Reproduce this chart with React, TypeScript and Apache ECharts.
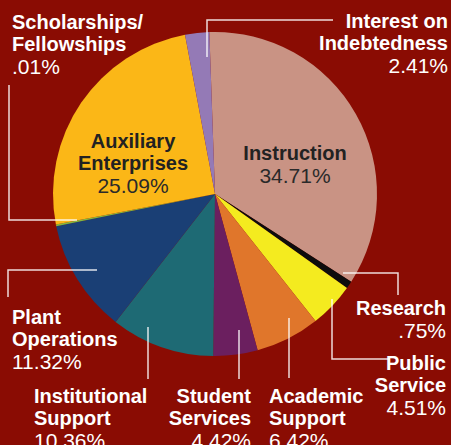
import React, { useEffect, useRef } from "react";
import * as echarts from "echarts";

// ---- data ----
const categories = [
  "Instruction",
  "Research",
  "Public Service",
  "Academic Support",
  "Student Services",
  "Institutional Support",
  "Plant Operations",
  "Scholarships/Fellowships",
  "Auxiliary Enterprises",
  "Interest on Indebtedness",
];
const labelNames = [
  "Instruction",
  "Research",
  "Public\nService",
  "Academic\nSupport",
  "Student\nServices",
  "Institutional\nSupport",
  "Plant\nOperations",
  "Scholarships/\nFellowships",
  "Auxiliary\nEnterprises",
  "Interest on\nIndebtedness",
];
const shares = [34.71, 0.75, 4.51, 6.42, 4.42, 10.36, 11.32, 0.01, 25.09, 2.41];
const insideLabel = [true, false, false, false, false, false, false, false, true, false];

// ---- styling / layout ----
const sliceColors = [
  "#C99384",
  "#0d0d0d",
  "#F4EB1F",
  "#E0762B",
  "#6B1F5F",
  "#1E6A74",
  "#1A3F75",
  "#7DBA45",
  "#FBB717",
  "#947AB6",
];
const labelPlacement: { x: number; y: number; align: string }[] = [
  { x: 295, y: 142, align: "center" },
  { x: 446, y: 297, align: "right" },
  { x: 446, y: 352, align: "right" },
  { x: 269, y: 385, align: "left" },
  { x: 251, y: 385, align: "right" },
  { x: 34, y: 385, align: "left" },
  { x: 12, y: 306, align: "left" },
  { x: 12, y: 11, align: "left" },
  { x: 133, y: 130, align: "center" },
  { x: 448, y: 10, align: "right" },
];
const leaderLines: number[][][] = [
  [[207, 57], [207, 20], [333, 20]],
  [[9, 85], [9, 220], [77, 220]],
  [[343, 273], [398, 273], [398, 295]],
  [[332, 299], [332, 359], [388, 359]],
  [[289, 318], [289, 378]],
  [[239, 330], [239, 379]],
  [[148, 327], [148, 379]],
  [[97, 270], [8, 270], [8, 297]],
];

const FONT = "'Liberation Sans', Arial, Helvetica, sans-serif";

function pctText(v: number): string {
  const s = v.toFixed(2);
  return (s.startsWith("0") ? s.slice(1) : s) + "%";
}

export default function App() {
  const ref = useRef<HTMLDivElement>(null);
  useEffect(() => {
    if (!ref.current) return;
    const chart = echarts.init(ref.current, undefined, { renderer: "svg" });
    const option: any = {
      animation: false,
      backgroundColor: "#8A0C03",
      series: [
        {
          type: "pie",
          center: [215, 194],
          radius: [0, 162],
          startAngle: 92,
          clockwise: true,
          minAngle: 0.6,
          avoidLabelOverlap: false,
          labelLine: { show: false },
          itemStyle: { borderWidth: 0 },
          emphasis: { disabled: true },
          label: {
            show: true,
            position: "outside",
            fontFamily: FONT,
            formatter: (p: any) => {
              const i = p.dataIndex;
              const inside = insideLabel[i];
              const n = inside ? "nI" : "nO";
              const pc = inside ? "pI" : "pO";
              const lines = labelNames[i].split("\n").map((l) => `{${n}|${l}}`);
              lines.push(`{${pc}|${pctText(shares[i])}}`);
              return lines.join("\n");
            },
            rich: {
              nO: { fontFamily: FONT, fontWeight: "bold", fontSize: 20, lineHeight: 22, color: "#ffffff" },
              pO: { fontFamily: FONT, fontSize: 21, lineHeight: 22, color: "#ffffff" },
              nI: { fontFamily: FONT, fontWeight: "bold", fontSize: 20, lineHeight: 22, color: "#222222" },
              pI: { fontFamily: FONT, fontSize: 21, lineHeight: 22, color: "#2a2a2a" },
            },
          },
          labelLayout: (params: any) => {
            const pl = labelPlacement[params.dataIndex];
            return { x: pl.x, y: pl.y, align: pl.align, verticalAlign: "top", hideOverlap: false };
          },
          data: categories.map((c, i) => ({
            name: c,
            value: shares[i],
            itemStyle: { color: sliceColors[i] },
          })),
        },
      ],
      graphic: leaderLines.map((pts) => ({
        type: "polyline",
        z: 100,
        shape: { points: pts },
        style: { stroke: "rgba(255,255,255,0.85)", lineWidth: 1.5, fill: null },
        silent: true,
      })),
    };
    chart.setOption(option);
    return () => chart.dispose();
  }, []);
  return (
    <div
      ref={ref}
      style={{ position: "fixed", left: 0, top: 0, width: 451, height: 445 }}
    />
  );
}
